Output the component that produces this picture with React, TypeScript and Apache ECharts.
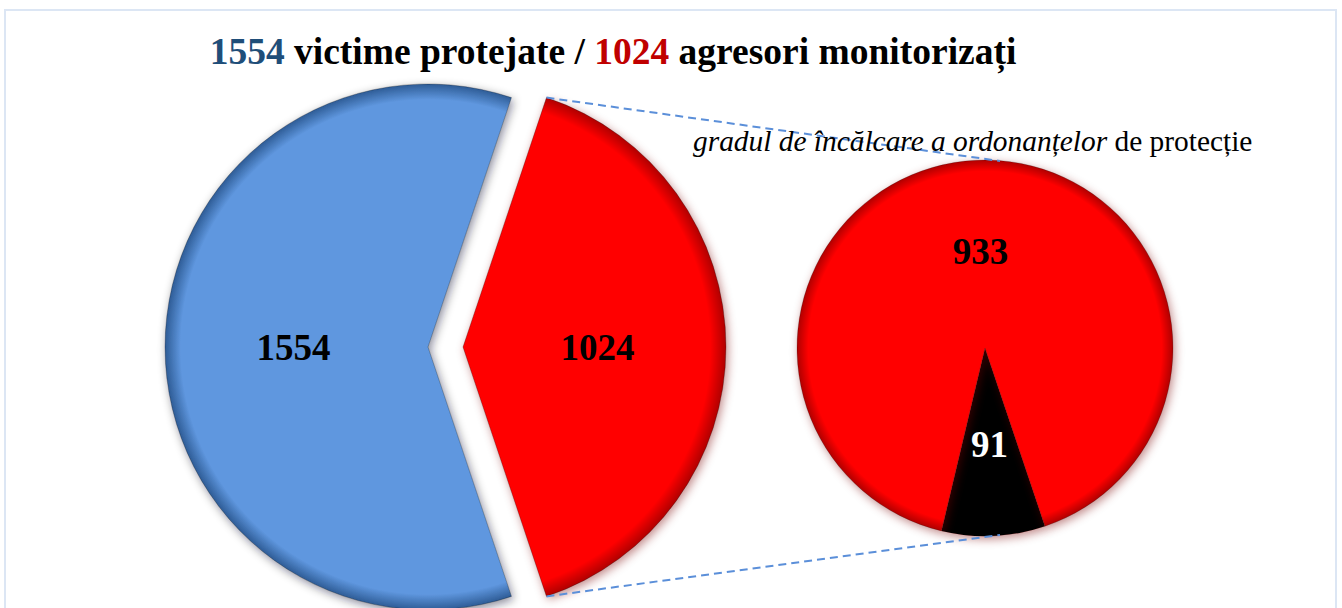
import React, { useEffect, useRef } from "react";
import * as echarts from "echarts";

const titleParts = ["1554", " victime protejate / ", "1024", " agresori monitorizați"];
const subtitleItalic = "gradul de încălcare a ordonanțelor";
const subtitleNormal = " de protecție";

const mainNames = ["agresori monitorizați", "victime protejate"];
const mainValues = [1024, 1554];
const mainColors = ["#FF0000", "#5F97DF"];
const mainRims = ["#B00000", "#2E5C96"];

const subNames = ["ordonanțe încălcate", "ordonanțe respectate"];
const subValues = [91, 933];
const subColors = ["#000000", "#FF0000"];
const subRims = ["#000000", "#B00000"];
const subLabelColors = ["#FFFFFF", "#000000"];

const W = 1342;
const H = 608;
const SERIF = "Liberation Serif";

export default function App() {
  const ref = useRef<HTMLDivElement>(null);
  useEffect(() => {
    if (!ref.current) return;
    const chart = echarts.init(ref.current, undefined, { renderer: "svg" });

    const R = 263;
    const cy = 347;
    const cMain = 445.5;
    const off = 17.5;
    const total = mainValues[0] + mainValues[1];
    const startMain = (mainValues[0] / total) * 180;

    const rad = (x: number, y: number, r: number, c: string, rim: string) => ({
      type: "radial",
      x,
      y,
      r,
      global: true,
      colorStops: [
        { offset: 0, color: c },
        { offset: 0.94, color: c },
        { offset: 1, color: rim },
      ],
    });

    const centers = [cMain + off, cMain - off];
    const mainSeries = mainValues.map((_, si) => ({
      type: "pie",
      center: [centers[si], cy],
      radius: R,
      startAngle: startMain,
      clockwise: true,
      silent: true,
      z: 2,
      label: {
        show: true,
        position: "inside",
        fontFamily: SERIF,
        fontWeight: "bold",
        fontSize: 37,
        color: "#000",
        formatter: "{c}",
      },
      labelLine: { show: false },
      emphasis: { disabled: true },
      data: mainValues.map((v, i) => ({
        name: mainNames[i],
        value: v,
        label: { show: i === si },
        itemStyle:
          i === si
            ? {
                color: rad(centers[si], cy, R, mainColors[i], mainRims[i]),
                shadowBlur: 10,
                shadowColor: i === 0 ? "rgba(120,0,0,0.45)" : "rgba(0,0,40,0.45)",
                shadowOffsetX: 2,
                shadowOffsetY: 3,
                borderColor: "rgba(0,0,0,0.25)",
                borderWidth: 1,
              }
            : { color: "rgba(0,0,0,0)", opacity: 0 },
      })),
    }));

    const r2 = 188;
    const c2x = 985;
    const c2y = 348;
    const subTotal = subValues[0] + subValues[1];
    const blackSpan = (subValues[0] / subTotal) * 360;
    const startSub = -90 + 2.6 + blackSpan / 2;

    const subSeries = {
      type: "pie",
      center: [c2x, c2y],
      radius: r2,
      startAngle: startSub,
      clockwise: true,
      silent: true,
      z: 2,
      label: {
        show: true,
        position: "inside",
        fontFamily: SERIF,
        fontWeight: "bold",
        fontSize: 37,
        formatter: "{c}",
      },
      labelLine: { show: false },
      emphasis: { disabled: true },
      data: subValues.map((v, i) => ({
        name: subNames[i],
        value: v,
        label: { color: subLabelColors[i] },
        itemStyle: {
          color: rad(c2x, c2y, r2, subColors[i], subRims[i]),
          shadowBlur: 10,
          shadowColor: "rgba(120,0,0,0.45)",
          shadowOffsetX: 2,
          shadowOffsetY: 3,
          borderColor: "rgba(0,0,0,0.2)",
          borderWidth: 1,
        },
      })),
    };

    const a = (startMain * Math.PI) / 180;
    const rx = cMain + off + R * Math.cos(a);
    const ryTop = cy - R * Math.sin(a);
    const ryBot = cy + R * Math.sin(a);

    const dash = { stroke: "#5B8FD9", lineWidth: 2, lineDash: [8, 5] };
    const tStyle = (color: string) => ({
      fontFamily: SERIF,
      fontWeight: "bold",
      fontSize: 37.5,
      color,
    });

    chart.setOption({
      animation: false,
      backgroundColor: "#FFFFFF",
      title: {
        left: 608,
        top: 27,
        textAlign: "center",
        text:
          "{b|" + titleParts[0] + "}{k|" + titleParts[1] + "}{r|" + titleParts[2] + "}{k|" + titleParts[3] + "}",
        textStyle: {
          fontFamily: SERIF,
          fontWeight: "bold",
          fontSize: 37.5,
          rich: {
            b: tStyle("#1F4E79"),
            k: tStyle("#000000"),
            r: tStyle("#C00000"),
          },
        },
      },
      graphic: [
        {
          type: "rect",
          shape: { x: 5, y: 10, width: 1331, height: 620 },
          style: { fill: "none", stroke: "#DCE6F4", lineWidth: 2 },
          silent: true,
          z: 0,
        },
        {
          type: "text",
          x: 693,
          y: 141,
          z: 5,
          style: {
            text: "{i|" + subtitleItalic + "}{n|" + subtitleNormal + "}",
            verticalAlign: "middle",
            fontFamily: SERIF,
            fontSize: 29.4,
            rich: {
              i: { fontFamily: SERIF, fontStyle: "italic", fontSize: 29.4, fill: "#000" },
              n: { fontFamily: SERIF, fontStyle: "normal", fontSize: 29.4, fill: "#000" },
            },
          },
        },
        {
          type: "line",
          z: 4,
          shape: { x1: rx, y1: ryTop, x2: 1000, y2: c2y - r2 + 1 },
          style: dash,
        },
        {
          type: "line",
          z: 4,
          shape: { x1: rx, y1: ryBot, x2: 1000, y2: c2y + r2 - 1 },
          style: dash,
        },
      ],
      series: [...mainSeries, subSeries],
    });
    return () => chart.dispose();
  }, []);

  return (
    <div
      ref={ref}
      style={{ position: "fixed", left: 0, top: 0, width: W, height: H, background: "#fff" }}
    />
  );
}
